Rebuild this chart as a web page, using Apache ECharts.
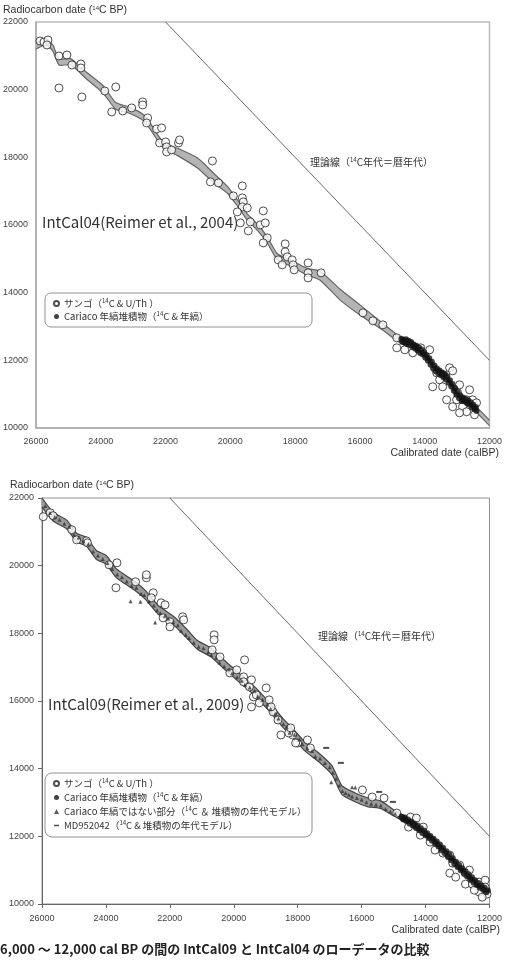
<!DOCTYPE html>
<html>
<head>
<meta charset="utf-8">
<script src="https://cdn.jsdelivr.net/npm/echarts@6/dist/echarts.min.js"></script>
<style>
  html, body {margin: 0; padding: 0; background: #fff;}
  #main {width: 505px; height: 963px;}
</style>
</head>
<body>
<div id="main"></div>
<script>
// ---- IntCal04 (upper panel) ----
var curve04Cal = [26000, 25690, 25480, 25290, 24920, 24460, 23910, 23540, 23140, 22710, 22460, 22150, 21940, 21630, 21010, 20520, 20090, 19780, 19480, 19170, 18860, 18550, 18150, 17630, 17230, 16610, 16000, 15290, 14770, 14460, 14150, 13940, 13630, 13320, 13140, 12920, 12610, 12400, 12150, 12000];
var curve04C14 = [21290, 21410, 21230, 20820, 20820, 20430, 19990, 19520, 19400, 19190, 18900, 18450, 18280, 18160, 17830, 17390, 17040, 16650, 16240, 15940, 15560, 15060, 14880, 14620, 14500, 13940, 13490, 12990, 12610, 12520, 12310, 12100, 11720, 11510, 11220, 10920, 10740, 10540, 10300, 10150];
var curve04Sig = [90, 90, 90, 90, 90, 100, 110, 100, 90, 90, 90, 90, 90, 110, 150, 140, 100, 90, 90, 90, 90, 90, 90, 100, 130, 160, 150, 100, 90, 80, 80, 80, 80, 80, 80, 80, 80, 80, 80, 80];

var coral04 = [
  [25877, 21439], [25754, 21409], [25631, 21468], [25662, 21321], [25292, 20996], [25046, 21025],
  [24892, 20730], [24615, 20759], [24615, 20641], [25292, 20050], [24585, 19785], [23877, 19962],
  [23538, 20080], [23662, 19341], [23323, 19371], [23046, 19460], [22708, 19637], [22708, 19548],
  [22554, 19164], [22585, 19016], [22277, 18839], [22123, 18869], [22185, 18426], [22000, 18455],
  [21969, 18307], [21969, 18160], [21815, 18219], [21600, 18426], [21569, 18514], [20554, 17894],
  [20615, 17274], [20369, 17244], [19908, 16860], [19631, 17155], [19631, 16801], [19600, 16683],
  [19631, 16535], [19477, 16506], [19785, 16387], [18985, 16417], [19692, 16062], [19446, 15826],
  [19385, 16092], [19077, 16003], [18923, 16062], [18862, 15619], [18985, 15471], [18308, 15442],
  [18308, 15206], [18246, 15058], [18523, 14969], [18400, 14822], [18092, 14969], [18062, 14822],
  [18031, 14674], [17600, 14881], [17600, 14585], [17600, 14438], [17200, 14585], [15908, 13404],
  [15600, 13168], [15292, 13049], [14862, 12665], [14862, 12370], [14615, 12311], [14369, 12222],
  [14123, 12370], [13846, 12311], [13631, 11631], [13231, 11779], [13138, 11690], [13538, 11425],
  [13446, 11218], [13754, 11218], [12923, 11277], [12985, 11041], [12615, 11130], [13015, 10834],
  [12708, 10834], [12523, 10834], [12400, 10745], [13323, 10834], [12831, 10627], [13138, 10627],
  [12708, 10480], [12923, 10450], [12462, 10391]
];

var cariaco04 = [
  [14720, 12640], [14690, 12540], [14650, 12600], [14610, 12510], [14580, 12620], [14540, 12480],
  [14500, 12580], [14460, 12450], [14420, 12540], [14380, 12400], [14340, 12470], [14300, 12350],
  [14260, 12430], [14220, 12290], [14180, 12380], [14140, 12220], [14100, 12320], [14060, 12170],
  [14020, 12240], [13980, 12080], [13940, 12150], [13900, 11990], [13860, 12060], [13820, 11870],
  [13780, 11960], [13740, 11760], [13700, 11850], [13660, 11680], [13620, 11760], [13580, 11610],
  [13540, 11700], [13500, 11560], [13460, 11640], [13420, 11500], [13380, 11600], [13340, 11430],
  [13300, 11530], [13260, 11340], [13220, 11410], [13180, 11230], [13140, 11300], [13100, 11100],
  [13060, 11180], [13020, 10980], [12980, 11060], [12940, 10880], [12900, 10960], [12860, 10800],
  [12820, 10900], [12780, 10790], [12740, 10860], [12700, 10740], [12660, 10820], [12620, 10690],
  [12580, 10760], [12540, 10600], [12500, 10690], [12460, 10560], [12420, 10620], [12400, 10500]
];

// ---- IntCal09 (lower panel) ----
var curve09Cal = [26000, 25650, 25220, 24920, 24610, 24300, 23990, 23690, 23380, 23070, 22770, 22370, 21840, 21440, 21140, 20740, 20220, 19820, 19390, 18890, 18460, 18160, 17760, 17360, 16930, 16620, 16220, 15820, 15390, 14990, 14590, 14160, 13760, 13370, 12940, 12540, 12140, 12000];
var curve09C14 = [21870, 21450, 21210, 20830, 20710, 20320, 20170, 19790, 19580, 19380, 19140, 18700, 18340, 17960, 17660, 17450, 17010, 16680, 16330, 15830, 15350, 15060, 14640, 14350, 13960, 13370, 13160, 13010, 12930, 12690, 12480, 12190, 11890, 11510, 11090, 10710, 10410, 10320];
var curve09Sig = [130, 130, 130, 130, 130, 130, 130, 130, 130, 130, 130, 130, 130, 130, 130, 130, 130, 130, 130, 130, 130, 130, 130, 130, 130, 130, 130, 130, 110, 90, 90, 80, 80, 80, 80, 80, 80, 80];

var coral09 = [
  [25960, 21447], [25745, 21565], [25653, 21476], [25069, 21062], [24916, 20762], [24608, 20733],
  [24578, 20674], [23656, 20085], [23687, 19346], [23072, 19524], [22735, 19642], [22735, 19731],
  [22520, 19199], [22581, 19050], [22274, 18902], [22151, 18843], [23902, 20026], [22212, 18458],
  [21997, 18340], [21997, 18192], [21598, 18488], [21567, 18399], [20615, 17955], [20615, 17807],
  [20677, 17511], [20431, 17304], [19663, 17215], [20124, 16831], [19908, 16920], [19693, 16713],
  [19693, 16565], [19509, 16417], [19447, 16624], [18986, 16387], [19386, 16121], [19202, 15944],
  [19447, 15825], [18894, 16032], [18771, 15677], [18617, 15440], [18525, 14996], [18157, 14996],
  [18003, 14759], [17696, 14848], [18833, 15825], [18280, 15056], [18219, 15204], [18065, 14759],
  [17604, 14611], [19294, 16180], [15976, 13369], [15669, 13162], [15300, 13132], [14901, 12688],
  [14471, 12570], [14287, 12540], [14533, 12274], [14072, 12274], [14164, 12037], [13857, 11830],
  [13703, 11594], [13457, 11505], [13242, 11446], [13150, 11209], [12935, 11150], [13242, 10913],
  [13058, 10795], [12751, 10913], [12628, 11002], [12751, 10588], [12536, 10588], [12321, 10647],
  [12137, 10706], [12137, 10499], [12321, 10351], [12475, 10410], [12075, 10292], [12229, 10203]
];

var cariaco09 = [
  [14750, 12580], [14700, 12500], [14650, 12560], [14600, 12450], [14550, 12500], [14500, 12380],
  [14450, 12440], [14400, 12320], [14350, 12380], [14300, 12250], [14250, 12320], [14200, 12180],
  [14150, 12240], [14100, 12100], [14050, 12170], [14000, 12030], [13950, 12090], [13900, 11950],
  [13850, 12010], [13800, 11870], [13750, 11930], [13700, 11790], [13650, 11850], [13600, 11700],
  [13550, 11760], [13500, 11590], [13450, 11660], [13400, 11500], [13350, 11560], [13300, 11390],
  [13250, 11460], [13200, 11290], [13150, 11350], [13100, 11180], [13050, 11250], [13000, 11090],
  [12950, 11150], [12900, 11000], [12850, 11060], [12800, 10910], [12750, 10970], [12700, 10810],
  [12650, 10880], [12600, 10720], [12550, 10790], [12500, 10630], [12450, 10700], [12400, 10560],
  [12350, 10620], [12300, 10480], [12250, 10550], [12200, 10420], [12150, 10480], [12100, 10350],
  [12050, 10400]
];

var nonVarve09 = [
  [25900, 21760], [25750, 21560], [25600, 21440], [25450, 21360], [25300, 21240], [25150, 21150],
  [25000, 20920], [24850, 20830], [24700, 20720], [24550, 20640], [24400, 20420], [24250, 20300],
  [24100, 20200], [23950, 20080], [23800, 19900], [23650, 19740], [23500, 19660], [23350, 19530],
  [23200, 19400], [23050, 19350], [22900, 19170], [22800, 19130], [22650, 18940], [22500, 18820],
  [22400, 18680], [22300, 18600], [22150, 18520], [22050, 18440], [21900, 18330], [21750, 18240],
  [21650, 18080], [21500, 17960], [21400, 17860], [21250, 17720], [21100, 17600], [20950, 17560],
  [20800, 17440], [20700, 17360], [20550, 17280], [20450, 17140], [20300, 17020], [20150, 16940],
  [20050, 16820], [19900, 16700], [19750, 16600], [19650, 16480], [19500, 16400], [19350, 16300],
  [19250, 16140], [19100, 16040], [18950, 15900], [18850, 15760], [18700, 15620], [18600, 15480],
  [18450, 15320], [18350, 15240], [18250, 15060], [18100, 15000], [17950, 14860], [17850, 14720],
  [17700, 14600], [17550, 14520], [17450, 14360], [17300, 14300], [17150, 14170], [17000, 14040],
  [16900, 13880], [16800, 13700], [16700, 13500], [16600, 13340], [16500, 13280], [16400, 13230],
  [16300, 13180], [16150, 13130], [16000, 13080], [15850, 13010], [15700, 12960], [15550, 12930],
  [15400, 12910], [15250, 12810], [15100, 12730], [14950, 12670], [14800, 12590], [14700, 12520],
  [23230, 18950], [22920, 18930], [22460, 18320], [16950, 13600], [16300, 13450], [16200, 13440]
];

var md09 = [[17110, 14614], [16649, 14171], [15451, 13313], [15021, 13018]];

// theoretical line 14C age = cal age
var theoryLine = [[22000, 22000], [12000, 12000]];

var legendSuffix = {
  'サンゴ': '（{s|14}C & U/Th ）',
  'Cariaco 年縞堆積物': '（{s|14}C & 年縞）',
  'Cariaco 年縞ではない部分': '（{s|14}C ＆ 堆積物の年代モデル）',
  'MD952042': '（{s|14}C & 堆積物の年代モデル）'
};

var latin = 'Liberation Sans, Arial, sans-serif';
var jp = 'Noto Sans CJK JP, sans-serif';

function bandSeries(idx, cals, mids, sigs, fill, edge) {
  var data = cals.map(function (c, i) { return [c, mids[i] - sigs[i], mids[i] + sigs[i]]; });
  return {
    type: 'custom',
    xAxisIndex: idx,
    yAxisIndex: idx,
    silent: true,
    z: 1,
    encode: {x: 0, y: [1, 2]},
    data: data,
    renderItem: function (params, api) {
      if (params.dataIndex !== 0) return;
      var up = [], lo = [];
      for (var i = 0; i < data.length; i++) {
        up.push(api.coord([data[i][0], data[i][2]]));
        lo.push(api.coord([data[i][0], data[i][1]]));
      }
      return {
        type: 'group',
        children: [
          {type: 'polygon', shape: {points: up.concat(lo.slice().reverse()), smooth: 0.2}, style: {fill: fill}},
          {type: 'polyline', shape: {points: up, smooth: 0.2}, style: {stroke: edge, lineWidth: 1.2, fill: null}},
          {type: 'polyline', shape: {points: lo, smooth: 0.2}, style: {stroke: edge, lineWidth: 1.2, fill: null}}
        ]
      };
    }
  };
}

function plain(v) { return String(v); }

function xAx(idx, ticks, lineColor, margin) {
  return {
    gridIndex: idx, type: 'value', min: 12000, max: 26000, interval: 2000, inverse: true,
    axisLine: {show: true, onZero: false, lineStyle: {color: lineColor, width: idx === 0 ? 1.5 : 1}},
    axisTick: {show: ticks, length: 4, lineStyle: {color: lineColor}},
    splitLine: {show: false},
    axisLabel: {fontSize: 9, color: '#444', margin: margin, fontFamily: latin, formatter: plain}
  };
}
function yAx(idx, ticks, lineColor, margin) {
  return {
    gridIndex: idx, type: 'value', min: 10000, max: 22000, interval: 2000,
    axisLine: {show: true, onZero: false, lineStyle: {color: lineColor, width: idx === 0 ? 1.5 : 1}},
    axisTick: {show: ticks, length: 4, lineStyle: {color: lineColor}},
    splitLine: {show: false},
    axisLabel: {fontSize: 9, color: '#444', margin: margin, fontFamily: latin, formatter: plain}
  };
}

var supRich = {s: {fontSize: 6, verticalAlign: 'top', lineHeight: 8, fontFamily: jp, color: '#333'}};

function txt(left, top, text, size, font) {
  return {type: 'text', left: left, top: top, z: 20, style: {text: text, fontSize: size, fontFamily: font, fill: '#333',
    rich: {s: {fontSize: Math.round(size * 0.6), verticalAlign: 'top', fontFamily: font, fill: '#333'}}}};
}

var chart = echarts.init(document.getElementById('main'), null, {renderer: 'canvas'});
chart.setOption({
  backgroundColor: '#fff',
  animation: false,
  grid: [
    {left: 35, top: 22, width: 455, height: 406, show: true, borderColor: '#bbb', borderWidth: 1.5},
    {left: 42, top: 498, width: 456, height: 406, show: true, borderColor: '#777', borderWidth: 0.8}
  ],
  xAxis: [xAx(0, false, '#aaa', 9), xAx(1, true, '#666', 10)],
  yAxis: [yAx(0, false, '#aaa', 8), yAx(1, true, '#666', 8)],
  legend: [
    {
      data: ['サンゴ', 'Cariaco 年縞堆積物'],
      orient: 'vertical', left: 53, top: 298, itemWidth: 5, itemHeight: 5, itemGap: 2,
      selectedMode: false, padding: 0, z: 30,
      formatter: function (n) { return n + legendSuffix[n]; },
      textStyle: {fontSize: 9.5, lineHeight: 11, color: '#333', fontFamily: jp, rich: supRich}
    },
    {
      data: ['サンゴ', 'Cariaco 年縞堆積物', 'Cariaco 年縞ではない部分', {name: 'MD952042', icon: 'path://M0,0 L10,0 L10,3 L0,3 Z'}],
      orient: 'vertical', left: 53, top: 778, itemWidth: 5, itemHeight: 5, itemGap: 3,
      selectedMode: false, padding: 0, z: 30,
      formatter: function (n) { return n + legendSuffix[n]; },
      textStyle: {fontSize: 9.5, lineHeight: 11, color: '#333', fontFamily: jp, rich: supRich}
    }
  ],
  graphic: [
    {type: 'rect', z: 0, shape: {x: 45, y: 293, width: 267, height: 34, r: 6}, style: {fill: '#fff', stroke: '#777', lineWidth: 0.8}},
    {type: 'rect', z: 0, shape: {x: 45, y: 773, width: 267, height: 64, r: 7}, style: {fill: '#fff', stroke: '#777', lineWidth: 0.8}},
    txt(3, 5, 'Radiocarbon date ({s|14}C BP)', 10.5, latin),
    txt(10, 480, 'Radiocarbon date ({s|14}C BP)', 10.5, latin),
    {type: 'text', right: 6, top: 448, style: {text: 'Calibrated date (calBP)', fontSize: 10.5, fontFamily: latin, fill: '#333'}},
    {type: 'text', right: 5, top: 925, style: {text: 'Calibrated date (calBP)', fontSize: 10.5, fontFamily: latin, fill: '#333'}},
    txt(42, 215, 'IntCal04(Reimer et al., 2004)', 15, jp),
    txt(48, 697, 'IntCal09(Reimer et al., 2009)', 15, jp),
    txt(310, 157, '理論線（{s|14}C年代＝暦年代）', 10, jp),
    txt(318, 631, '理論線（{s|14}C年代＝暦年代）', 10, jp),
    {type: 'text', left: 0, top: 943, style: {text: '6,000 ～ 12,000 cal BP の間の IntCal09 と IntCal04 のローデータの比較', fontSize: 13, fontWeight: 'bold', fontFamily: jp, fill: '#222'}}
  ],
  series: [
    bandSeries(0, curve04Cal, curve04C14, curve04Sig, '#b4b4b4', '#666'),
    {type: 'line', xAxisIndex: 0, yAxisIndex: 0, data: theoryLine, symbol: 'none', lineStyle: {color: '#444', width: 0.8}, silent: true},
    {name: 'サンゴ', type: 'scatter', xAxisIndex: 0, yAxisIndex: 0, data: coral04, symbol: 'circle', symbolSize: 8,
      itemStyle: {color: '#fff', borderColor: '#222', borderWidth: 1}, z: 3},
    {name: 'Cariaco 年縞堆積物', type: 'scatter', xAxisIndex: 0, yAxisIndex: 0, data: cariaco04, symbol: 'circle', symbolSize: 6,
      itemStyle: {color: '#111'}, z: 4},

    bandSeries(1, curve09Cal, curve09C14, curve09Sig, '#9a9a9a', '#444'),
    {type: 'line', xAxisIndex: 1, yAxisIndex: 1, data: theoryLine, symbol: 'none', lineStyle: {color: '#444', width: 0.8}, silent: true},
    {name: 'サンゴ', type: 'scatter', xAxisIndex: 1, yAxisIndex: 1, data: coral09, symbol: 'circle', symbolSize: 8,
      itemStyle: {color: '#fff', borderColor: '#222', borderWidth: 1}, z: 3},
    {name: 'Cariaco 年縞ではない部分', type: 'scatter', xAxisIndex: 1, yAxisIndex: 1, data: nonVarve09, symbol: 'triangle', symbolSize: 4,
      itemStyle: {color: '#333'}, z: 4},
    {name: 'Cariaco 年縞堆積物', type: 'scatter', xAxisIndex: 1, yAxisIndex: 1, data: cariaco09, symbol: 'circle', symbolSize: 6,
      itemStyle: {color: '#111'}, z: 4},
    {name: 'MD952042', type: 'scatter', xAxisIndex: 1, yAxisIndex: 1, data: md09, symbol: 'rect', symbolSize: [6, 2],
      itemStyle: {color: '#222'}, z: 4}
  ]
});
</script>
</body>
</html>
